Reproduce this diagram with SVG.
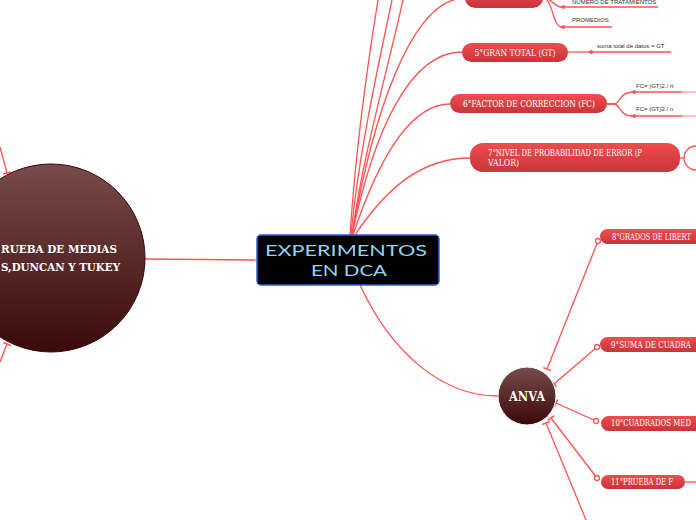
<svg xmlns="http://www.w3.org/2000/svg" width="696" height="520" viewBox="0 0 696 520">
<style>
.c{fill:none;stroke:#ff5252;stroke-width:1.3}
.nt{font-family:"DejaVu Serif",serif;font-size:8.5px;fill:#ffffff}
.lb{font-family:"Liberation Sans",Arial,sans-serif;font-size:6px;fill:#333333}
.dot{fill:#ffffff;stroke:#ff5252;stroke-width:1.3}
</style>
<defs>
<linearGradient id="red" x1="0" y1="0" x2="0" y2="1">
<stop offset="0" stop-color="#f34b4d"/>
<stop offset="1" stop-color="#c5363b"/>
</linearGradient>
<linearGradient id="brown" x1="0" y1="0" x2="0" y2="1">
<stop offset="0" stop-color="#774c4a"/>
<stop offset="1" stop-color="#3b0909"/>
</linearGradient>
<marker id="arr" viewBox="0 0 6 6" refX="3" refY="3" markerWidth="5" markerHeight="5" orient="auto" markerUnits="userSpaceOnUse">
<path d="M0 0 L6 3 L0 6z" fill="#ff5252"/>
</marker>
<marker id="tick" viewBox="0 0 2 8" refX="1" refY="4" markerWidth="2" markerHeight="8" orient="auto" markerUnits="userSpaceOnUse">
<path d="M1 0 V8" stroke="#ff5252" stroke-width="1.5"/>
</marker>
</defs>

<g id="connectors">
<path class="c" d="M145 259 L257 260"/>
<path class="c" d="M0 147 L7 173" marker-end="url(#tick)"/>
<path class="c" d="M0 362 L7 344" marker-end="url(#tick)"/>
<path class="c" d="M350 235 C355 160 365 80 378 0"/>
<path class="c" d="M351 235 C358 160 375 80 392 0"/>
<path class="c" d="M352 235 C362 160 385 80 403 0"/>
<path class="c" d="M352 235 C372 120 410 -2 465 -2"/>
<path class="c" d="M352 235 C374 130 410 52 462 52"/>
<path class="c" d="M353 235 C378 160 410 104 450 104"/>
<path class="c" d="M355 235 C385 190 420 158 470 158"/>
<path class="c" d="M360 285 C390 350 440 396 498 396"/>
<path class="c" d="M543 -2 C553 -2 553 7 562 7"/>
<path class="c" d="M543 -2 C553 -2 552 27 562 27"/>
<path class="c" d="M658 7 H562" marker-end="url(#arr)"/>
<path class="c" d="M612 27 H562" marker-end="url(#arr)"/>
<path class="c" d="M568 52 H590"/>
<path class="c" d="M671 52 H590" marker-end="url(#arr)"/>
<path class="c" d="M607 104 H614 C620 104 619 92 633 92"/>
<path class="c" d="M607 104 H614 C620 104 619 116 633 116"/>
<path class="c" d="M682 92 H633" marker-end="url(#arr)"/>
<path class="c" d="M682 116 H633" marker-end="url(#arr)"/>
<path d="M682 92 H696 M682 116 H696" fill="none" stroke="#ffb0b0" stroke-width="1.3"/>
<path class="c" d="M680 158 H684"/>
<path class="c" d="M598 241 L547 369" marker-end="url(#tick)"/>
<path class="c" d="M597 347 L554 384" marker-end="url(#tick)"/>
<path class="c" d="M596 421 L556 403" marker-end="url(#tick)"/>
<path class="c" d="M597 478 L551 418" marker-end="url(#tick)"/>
<path class="c" d="M586 520 L546 423" marker-end="url(#tick)"/>
<path class="c" d="M685 482 H696"/>
</g>

<g id="central">
<rect x="257" y="235" width="182" height="50" rx="4" fill="#000000" stroke="#2f5ee0" stroke-width="1.5"/>
<text x="346" y="256" text-anchor="middle" font-family="Lato,'Liberation Sans',sans-serif" font-size="15" fill="#92d4f0" textLength="162" lengthAdjust="spacingAndGlyphs">EXPERIMENTOS</text>
<text x="349" y="276" text-anchor="middle" font-family="Lato,'Liberation Sans',sans-serif" font-size="15" fill="#92d4f0" textLength="76" lengthAdjust="spacingAndGlyphs">EN DCA</text>
</g>

<g id="prueba-medias">
<circle cx="51" cy="258" r="94" fill="url(#brown)" stroke="#3a0606" stroke-width="1"/>
<text x="117" y="253" text-anchor="end" font-family="'DejaVu Serif',serif" font-weight="bold" font-size="11" fill="#ffffff" textLength="116" lengthAdjust="spacingAndGlyphs">RUEBA DE MEDIAS</text>
<text x="120" y="271" text-anchor="end" font-family="'DejaVu Serif',serif" font-weight="bold" font-size="11" fill="#ffffff" textLength="119" lengthAdjust="spacingAndGlyphs">S,DUNCAN Y TUKEY</text>
</g>

<g id="node4">
<rect x="465" y="-14" width="78" height="22" rx="10" fill="url(#red)"/>
</g>
<g id="numero-tratamientos">
<text class="lb" x="572" y="4">NUMERO DE TRATAMIENTOS</text>
</g>
<g id="promedios">
<text class="lb" x="572" y="22">PROMEDIOS</text>
</g>

<g id="node5">
<rect x="462" y="43" width="106" height="19" rx="9.5" fill="url(#red)"/>
<text class="nt" x="515" y="56" text-anchor="middle" textLength="81" lengthAdjust="spacingAndGlyphs">5°GRAN TOTAL (GT)</text>
</g>
<g id="suma-total">
<text class="lb" x="597" y="48">suma total de datos = GT</text>
</g>

<g id="node6">
<rect x="450" y="94" width="157" height="19" rx="9.5" fill="url(#red)"/>
<text class="nt" x="529" y="107" text-anchor="middle" textLength="132" lengthAdjust="spacingAndGlyphs">6°FACTOR DE CORRECCION (FC)</text>
</g>
<g id="fc1">
<text class="lb" x="636" y="88">FC= )GT)2 / rt</text>
</g>
<g id="fc2">
<text class="lb" x="636" y="111">FC= (GT)2 / n</text>
</g>

<g id="node7">
<rect x="470" y="143" width="210" height="29" rx="13" fill="url(#red)"/>
<text class="nt" x="488" y="156" textLength="154" lengthAdjust="spacingAndGlyphs">7°NIVEL DE PROBABILIDAD DE ERROR (P</text>
<text class="nt" x="488" y="166" textLength="31" lengthAdjust="spacingAndGlyphs">VALOR)</text>
</g>
<g id="node7-child">
<circle cx="696" cy="158" r="12" fill="#ffffff" stroke="#ff5252" stroke-width="1.3"/>
</g>

<g id="anva">
<circle cx="527" cy="396" r="29" fill="url(#brown)" stroke="#ffffff" stroke-width="1"/>
<text x="527" y="401" text-anchor="middle" font-family="'DejaVu Serif',serif" font-weight="bold" font-size="13" fill="#ffffff" textLength="36" lengthAdjust="spacingAndGlyphs">ANVA</text>
</g>

<g id="node8">
<path d="M607.5 229 H696 V244 H607.5 A7.5 7.5 0 0 1 607.5 229 Z" fill="url(#red)"/>
<circle class="dot" cx="598" cy="241" r="2.5"/>
<text class="nt" x="612" y="240" textLength="79" lengthAdjust="spacingAndGlyphs">8°GRADOS DE LIBERT</text>
</g>
<g id="node9">
<path d="M607.5 337 H696 V352 H607.5 A7.5 7.5 0 0 1 607.5 337 Z" fill="url(#red)"/>
<circle class="dot" cx="597" cy="347" r="2.5"/>
<text class="nt" x="611" y="348" textLength="80" lengthAdjust="spacingAndGlyphs">9°SUMA DE CUADRA</text>
</g>
<g id="node10">
<path d="M608.5 416 H696 V431 H608.5 A7.5 7.5 0 0 1 608.5 416 Z" fill="url(#red)"/>
<circle class="dot" cx="596" cy="421" r="2.5"/>
<text class="nt" x="611" y="426" textLength="80" lengthAdjust="spacingAndGlyphs">10°CUADRADOS MED</text>
</g>
<g id="node11">
<rect x="601" y="475" width="84" height="14" rx="7" fill="url(#red)"/>
<circle class="dot" cx="597" cy="478" r="2.5"/>
<text class="nt" x="611" y="485" textLength="62" lengthAdjust="spacingAndGlyphs">11°PRUEBA DE F</text>
</g>
</svg>
